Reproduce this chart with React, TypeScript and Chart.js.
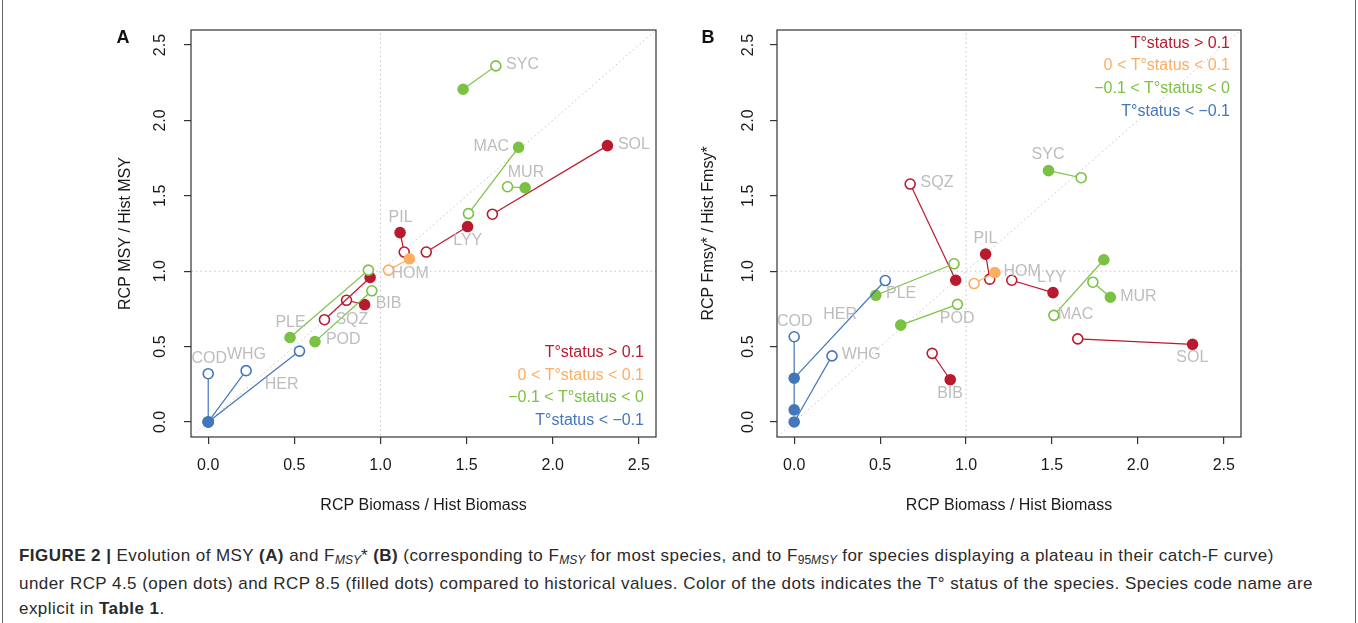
import React, { useEffect, useRef } from "react";
import { Chart, registerables } from "chart.js";
Chart.register(...registerables);

// ---------------- DATA ----------------
const species = ["COD", "WHG", "HER", "PLE", "POD", "SQZ", "BIB", "HOM", "PIL", "LYY", "SYC", "MAC", "MUR", "SOL"];
// 0: T°status > 0.1, 1: 0 < T°status < 0.1, 2: -0.1 < T°status < 0, 3: T°status < -0.1
const tStatus = [3, 3, 3, 2, 2, 0, 0, 1, 0, 0, 2, 2, 2, 0];

// RCP Biomass / Hist Biomass (open = RCP 4.5, filled = RCP 8.5)
const biomass45 = [0.0, 0.22, 0.53, 0.93, 0.95, 0.675, 0.803, 1.047, 1.138, 1.266, 1.67, 1.511, 1.738, 1.65];
const biomass85 = [0.0, 0.0, 0.0, 0.475, 0.62, 0.94, 0.908, 1.168, 1.114, 1.506, 1.48, 1.802, 1.84, 2.318];

// Panel A: RCP MSY / Hist MSY
const msy45 = [0.32, 0.34, 0.47, 1.007, 0.87, 0.678, 0.807, 1.007, 1.127, 1.127, 2.362, 1.382, 1.56, 1.378];
const msy85 = [0.0, 0.0, 0.0, 0.56, 0.533, 0.958, 0.778, 1.082, 1.256, 1.296, 2.207, 1.822, 1.553, 1.833];

// Panel B: RCP Fmsy* / Hist Fmsy*
const fmsy45 = [0.565, 0.438, 0.938, 1.049, 0.78, 1.578, 0.455, 0.918, 0.947, 0.94, 1.62, 0.707, 0.927, 0.551];
const fmsy85 = [0.08, 0.0, 0.29, 0.84, 0.642, 0.94, 0.28, 0.991, 1.113, 0.858, 1.667, 1.076, 0.827, 0.515];

// species label anchors (data units)
const labelAx = [0.006, 0.222, 0.426, 0.478, 0.784, 0.834, 1.047, 1.172, 1.117, 1.507, 1.825, 1.644, 1.845, 2.472];
const labelAy = [0.42, 0.447, 0.247, 0.66, 0.547, 0.68, 0.787, 0.987, 1.353, 1.2, 2.373, 1.827, 1.653, 1.84];
const labelBx = [0.003, 0.39, 0.267, 0.622, 0.948, 0.831, 0.907, 1.326, 1.113, 1.497, 1.477, 1.637, 2.003, 2.317];
const labelBy = [0.667, 0.447, 0.713, 0.853, 0.687, 1.587, 0.187, 1.0, 1.213, 0.96, 1.773, 0.713, 0.833, 0.427];

const tickValues = [0, 0.5, 1, 1.5, 2, 2.5];
const tickLabels = ["0.0", "0.5", "1.0", "1.5", "2.0", "2.5"];
const legendLabels = ["T°status > 0.1", "0 < T°status < 0.1", "\u22120.1 < T°status < 0", "T°status < \u22120.1"];
const statusColors = ["#BA1A2E", "#FDAE61", "#7BC143", "#4476BA"];

const FONT = "'Liberation Sans', Arial, Helvetica, sans-serif";

type PanelCfg = {
  left: number;
  width: number;
  letter: string;
  yTitle: string;
  y45: number[];
  y85: number[];
  lx: number[];
  ly: number[];
  padLeft: number;
  padRight: number;
  letterX: number;
  yTitleX: number;
  yTickX: number;
  legendRight: number;
  legendY: number[];
};

function Panel({ cfg }: { cfg: PanelCfg }) {
  const ref = useRef<HTMLCanvasElement>(null);
  useEffect(() => {
    const canvas = ref.current!;
    const datasets: any[] = species.map((s, i) => {
      const col = statusColors[tStatus[i]];
      return {
        label: s,
        data: [
          { x: biomass45[i], y: cfg.y45[i] },
          { x: biomass85[i], y: cfg.y85[i] },
        ],
        showLine: true,
        borderColor: col,
        borderWidth: 1.2,
        pointRadius: 5,
        pointBorderWidth: 1.6,
        pointBackgroundColor: ["#ffffff", col],
        pointBorderColor: col,
        order: 1,
      };
    });
    const refLine = (d: { x: number; y: number }[]) => ({
      label: "ref",
      data: d,
      showLine: true,
      borderColor: "#C4C4C4",
      borderWidth: 1,
      borderDash: [1.5, 3],
      pointRadius: 0,
      order: 10,
    });
    datasets.push(refLine([{ x: -10, y: -10 }, { x: 10, y: 10 }]));
    datasets.push(refLine([{ x: 1, y: -10 }, { x: 1, y: 10 }]));
    datasets.push(refLine([{ x: -10, y: 1 }, { x: 10, y: 1 }]));

    const overlay = {
      id: "overlay",
      afterDatasetsDraw(chart: any) {
        const ctx = chart.ctx as CanvasRenderingContext2D;
        const xs = chart.scales.x;
        const ys = chart.scales.y;
        const ca = chart.chartArea;
        ctx.save();
        // species labels
        ctx.font = `16px ${FONT}`;
        ctx.fillStyle = "#BDBDBD";
        ctx.textAlign = "center";
        ctx.textBaseline = "middle";
        species.forEach((s, i) => {
          ctx.fillText(s, xs.getPixelForValue(cfg.lx[i]), ys.getPixelForValue(cfg.ly[i]));
        });
        // legend
        ctx.textAlign = "right";
        legendLabels.forEach((t, i) => {
          ctx.fillStyle = statusColors[i];
          ctx.fillText(t, cfg.legendRight, cfg.legendY[i]);
        });
        // box
        ctx.strokeStyle = "#333333";
        ctx.lineWidth = 1.2;
        ctx.strokeRect(ca.left, ca.top, ca.right - ca.left, ca.bottom - ca.top);
        // tick labels
        ctx.fillStyle = "#1a1a1a";
        ctx.font = `16px ${FONT}`;
        ctx.textAlign = "center";
        ctx.textBaseline = "middle";
        tickValues.forEach((v, i) => {
          ctx.fillText(tickLabels[i], xs.getPixelForValue(v), 466);
        });
        tickValues.forEach((v, i) => {
          ctx.save();
          ctx.translate(cfg.yTickX, ys.getPixelForValue(v));
          ctx.rotate(-Math.PI / 2);
          ctx.fillText(tickLabels[i], 0, 0);
          ctx.restore();
        });
        // axis titles
        ctx.fillText("RCP Biomass / Hist Biomass", (ca.left + ca.right) / 2, 506);
        ctx.save();
        ctx.translate(cfg.yTitleX, (ca.top + ca.bottom) / 2);
        ctx.rotate(-Math.PI / 2);
        ctx.fillText(cfg.yTitle, 0, 0);
        ctx.restore();
        // panel letter
        ctx.font = `bold 18px ${FONT}`;
        ctx.fillStyle = "#111";
        ctx.fillText(cfg.letter, cfg.letterX, 38);
        ctx.restore();
      },
    };

    const chart = new Chart(canvas, {
      type: "scatter",
      data: { datasets },
      options: {
        animation: false,
        responsive: false,
        devicePixelRatio: 1,
        events: [],
        layout: { padding: { left: cfg.padLeft, right: cfg.padRight, top: 30, bottom: 73 } },
        plugins: { legend: { display: false }, tooltip: { enabled: false } },
        scales: {
          x: {
            type: "linear",
            min: -0.1,
            max: 2.6,
            afterBuildTicks: (s: any) => {
              s.ticks = tickValues.map((v) => ({ value: v }));
            },
            afterFit: (s: any) => {
              s.height = 10;
            },
            ticks: { display: false },
            border: { display: false },
            grid: { display: true, drawOnChartArea: false, drawTicks: true, tickLength: 7, color: "#333", lineWidth: 1.2 },
          },
          y: {
            type: "linear",
            min: -0.1,
            max: 2.6,
            afterBuildTicks: (s: any) => {
              s.ticks = tickValues.map((v) => ({ value: v }));
            },
            afterFit: (s: any) => {
              s.width = 10;
            },
            ticks: { display: false },
            border: { display: false },
            grid: { display: true, drawOnChartArea: false, drawTicks: true, tickLength: 7, color: "#333", lineWidth: 1.2 },
          },
        },
      } as any,
      plugins: [overlay],
    });
    return () => chart.destroy();
  }, []);
  return (
    <canvas
      ref={ref}
      width={cfg.width}
      height={520}
      style={{ position: "absolute", left: cfg.left, top: 0, width: cfg.width, height: 520 }}
    />
  );
}

const panelA: PanelCfg = {
  left: 0,
  width: 680,
  letter: "A",
  yTitle: "RCP MSY / Hist MSY",
  y45: msy45,
  y85: msy85,
  lx: labelAx,
  ly: labelAy,
  padLeft: 181,
  padRight: 24,
  letterX: 123,
  yTitleX: 126,
  yTickX: 161,
  legendRight: 644,
  legendY: [353, 375.5, 398, 420.5],
};

const panelB: PanelCfg = {
  left: 680,
  width: 678,
  letter: "B",
  yTitle: "RCP Fmsy* / Hist Fmsy*",
  y45: fmsy45,
  y85: fmsy85,
  lx: labelBx,
  ly: labelBy,
  padLeft: 87,
  padRight: 117,
  letterX: 28,
  yTitleX: 29,
  yTickX: 69,
  legendRight: 550,
  legendY: [43.5, 66, 89, 111.5],
};

const sub: React.CSSProperties = { fontSize: 12, fontStyle: "italic", position: "relative", top: 3, letterSpacing: 0 };

export default function App() {
  return (
    <div
      style={{
        position: "fixed",
        left: 0,
        top: 0,
        width: 1358,
        height: 623,
        background: "#fff",
        overflow: "hidden",
        fontFamily: FONT,
      }}
    >
      <div
        style={{
          position: "absolute",
          left: 2,
          top: -2,
          width: 1352,
          height: 627,
          borderLeft: "1px solid #666",
          borderRight: "1px solid #666",
        }}
      />
      <Panel cfg={panelA} />
      <Panel cfg={panelB} />
      <div
        style={{
          position: "absolute",
          left: 19,
          top: 543,
          fontSize: 17,
          letterSpacing: 0.45,
          lineHeight: "25.5px",
          color: "#2a2a2a",
          whiteSpace: "nowrap",
        }}
      >
        <div>
          <b>FIGURE 2 |</b> Evolution of MSY <b>(A)</b> and F<span style={sub}>MSY</span>* <b>(B)</b> (corresponding to F
          <span style={sub}>MSY</span> for most species, and to F<span style={{ ...sub, fontStyle: "normal" }}>95</span>
          <span style={sub}>MSY</span> for species displaying a plateau in their catch-F curve)
        </div>
        <div>
          under RCP 4.5 (open dots) and RCP 8.5 (filled dots) compared to historical values. Color of the dots indicates the T° status of the species. Species code name are
        </div>
        <div>
          explicit in <b>Table 1</b>.
        </div>
      </div>
    </div>
  );
}
